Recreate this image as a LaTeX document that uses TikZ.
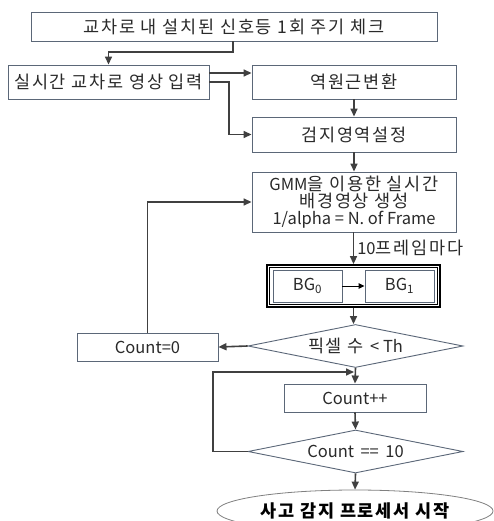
\documentclass[tikz,border=0pt]{standalone}
\usepackage{fontspec}
\setmainfont{Noto Sans CJK KR}
\newfontfamily\kfam[LetterSpace=10]{Noto Sans CJK KR}
\newcommand{\kf}{\kfam\fontsize{17.5}{17}\selectfont}
\usetikzlibrary{shapes.geometric,arrows.meta,calc}
\definecolor{edgec}{HTML}{5B6778}
\definecolor{arrc}{HTML}{404040}
\definecolor{txtc}{HTML}{2A2A2A}
\newcommand{\widesp}{\spaceskip=6.5pt\relax}
\begin{document}
\begin{tikzpicture}[x=1pt,y=-1pt,
  font=\fontsize{16.5}{17}\selectfont,
  box/.style={draw=edgec, line width=0.9pt, fill=white, inner sep=0pt, text=txtc, align=center},
  dia/.style={diamond, aspect=5, draw=edgec, line width=0.9pt, fill=white, inner sep=0pt, text=txtc, minimum width=215pt, minimum height=43pt},
  flow/.style={draw=arrc, line width=1.6pt, -{Triangle[length=8pt,width=7pt]}},
]
\useasboundingbox (0,0) rectangle (493,521);
\fill[white] (0,0) rectangle (493,521);

\node[box, minimum width=406pt, minimum height=29pt] (top) at (234,26.5) {\kf 교차로 내 설치된 신호등 1회 주기 체크};
\node[box, minimum width=201pt, minimum height=34pt] (inp) at (108.5,82) {\kf 실시간 교차로 영상 입력};
\node[box, minimum width=204pt, minimum height=34pt] (inv) at (354,82) {\kf 역원근변환};
\node[box, minimum width=204pt, minimum height=35pt] (roi) at (354,134.5) {\kf 검지영역설정};
\node[box, minimum width=204pt, minimum height=60pt] (gmm) at (354,202) {GMM{\kf 을 이용한 실시간}\\{\kf 배경영상 생성}\\1/alpha = N. of Frame};

\node[draw=black, line width=1.8pt, minimum width=173pt, minimum height=42pt, inner sep=0pt] (bg) at (353.5,286) {};
\draw[black, line width=0.6pt] ($(bg.north west)+(3.5,3.5)$) rectangle ($(bg.south east)+(-3.5,-3.5)$);
\node[box, minimum width=69pt, minimum height=32pt] (bg0) at (307.5,286) {BG\textsubscript{0}};
\node[box, minimum width=69pt, minimum height=32pt] (bg1) at (399.5,286) {BG\textsubscript{1}};

\node[dia] (d1) at (355.5,346) {{\kf 픽셀 수} \,< Th};
\node[box, minimum width=141pt, minimum height=28pt] (c0) at (147.5,347) {Count=0};
\node[box, minimum width=142pt, minimum height=28pt] (cpp) at (355,398) {Count++};
\node[dia] (d2) at (355.5,451.5) {\widesp Count == 10};
\node[ellipse, draw=gray, line width=0.8pt, fill=white, minimum width=276pt, minimum height=42pt, inner sep=0pt, text=black] (end) at (355,511) {\kf\bfseries 사고 감지 프로세서 시작};

\coordinate (j1) at (233,52);
\coordinate (j2) at (108.5,52);
\draw[flow] (top.south -| j1) -- (j1) -- (j2) -- (inp.north);
\draw[flow] (inp.east |- 0,73) -- (inv.west |- 0,73);
\coordinate (j3) at (229,82);
\draw[flow] (inp.east) -- (j3) -- (j3 |- roi.west) -- (roi.west);
\draw[flow] (inv.south) -- (roi.north);
\draw[flow] (roi.south) -- (gmm.north);
\draw[flow] (gmm.south -| bg.north) -- node[right=2pt, text=txtc, inner sep=1pt] {10{\kf 프레임마다}} (bg.north);
\draw[black, line width=1pt, -{Triangle[length=6pt,width=5.5pt]}] (bg0.east) -- (bg1.west);
\draw[flow] (bg.south) -- (bg.south |- d1.north);
\draw[flow] (d1.west) -- (c0.east);
\coordinate (j4) at (147.5,202);
\draw[flow] (c0.north) -- (j4) -- (gmm.west);
\draw[flow] (d1.south) -- (cpp.north);
\draw[flow] (cpp.south) -- (d2.north);
\coordinate (j5) at (213,451.5);
\coordinate (j6) at (213,372);
\coordinate (j7) at (354,372);
\draw[flow] (d2.west) -- (j5) -- (j6) -- (j7);
\draw[flow] (d2.south) -- (end.north);
\end{tikzpicture}
\end{document}
